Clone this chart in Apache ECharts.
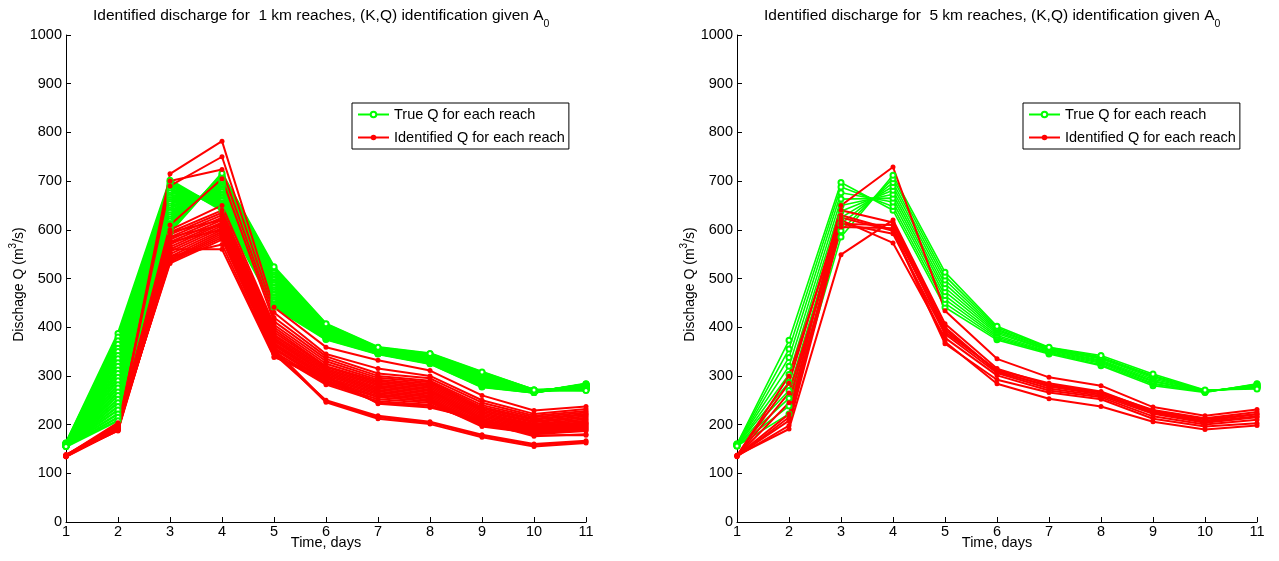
<!DOCTYPE html>
<html>
<head>
<meta charset="utf-8">
<script src="https://cdn.jsdelivr.net/npm/echarts@6/dist/echarts.min.js"></script>
<style>html,body{margin:0;padding:0;background:#fff;}#c{width:1279px;height:561px;}</style>
</head>
<body>
<div id="c"></div>
<script>
const days = [1, 2, 3, 4, 5, 6, 7, 8, 9, 10, 11];
const xTicks = [1, 2, 3, 4, 5, 6, 7, 8, 9, 10, 11];
const yTicks = [0, 100, 200, 300, 400, 500, 600, 700, 800, 900, 1000];

// 1 km reaches: true discharge per reach
const trueQ1km = [
  [162, 387, 702, 640, 441, 375, 345, 325, 277, 266, 284],
  [162, 380, 698, 643, 444, 376, 346, 326, 278, 266, 283],
  [161, 372, 693, 646, 448, 378, 346, 327, 280, 266, 283],
  [161, 365, 689, 650, 451, 379, 347, 328, 281, 267, 282],
  [161, 357, 684, 653, 455, 380, 347, 329, 282, 267, 282],
  [160, 350, 680, 656, 458, 382, 348, 329, 284, 267, 281],
  [160, 342, 676, 659, 462, 383, 348, 330, 285, 267, 281],
  [160, 335, 671, 662, 465, 384, 349, 331, 286, 268, 280],
  [159, 327, 667, 665, 469, 386, 349, 332, 287, 268, 280],
  [159, 320, 662, 669, 472, 387, 350, 333, 289, 268, 279],
  [159, 312, 658, 672, 476, 388, 350, 334, 290, 268, 279],
  [158, 305, 654, 675, 479, 390, 351, 335, 291, 268, 278],
  [158, 297, 649, 678, 483, 391, 352, 335, 293, 269, 277],
  [158, 290, 645, 681, 486, 392, 352, 336, 294, 269, 277],
  [158, 282, 640, 684, 490, 394, 353, 337, 295, 269, 276],
  [157, 275, 636, 688, 493, 395, 353, 338, 296, 269, 276],
  [157, 267, 631, 691, 497, 396, 354, 339, 298, 269, 275],
  [157, 260, 627, 694, 500, 398, 354, 340, 299, 270, 275],
  [157, 252, 622, 697, 503, 399, 355, 341, 300, 270, 274],
  [156, 245, 618, 700, 507, 400, 355, 341, 302, 270, 273],
  [156, 237, 613, 703, 510, 402, 356, 342, 303, 270, 273],
  [156, 230, 609, 707, 514, 403, 356, 343, 304, 270, 272],
  [156, 222, 604, 710, 517, 404, 357, 344, 305, 271, 272],
  [155, 215, 600, 713, 521, 406, 358, 345, 307, 271, 271],
  [155, 208, 595, 716, 524, 407, 359, 346, 308, 271, 270]
];

// 1 km reaches: identified discharge per reach
const identQ1km = [
  [136, 190, 715, 782, 441, 359, 332, 311, 260, 229, 237],
  [137, 193, 690, 750, 430, 345, 315, 300, 250, 222, 232],
  [138, 196, 700, 724, 420, 340, 305, 295, 245, 218, 228],
  [135, 199, 610, 705, 412, 335, 300, 290, 240, 215, 225],
  [136, 202, 600, 650, 405, 330, 296, 287, 236, 212, 222],
  [134, 188, 595, 640, 400, 325, 292, 284, 233, 210, 220],
  [137, 191, 590, 635, 395, 320, 289, 281, 230, 207, 217],
  [136, 194, 585, 630, 390, 318, 286, 278, 227, 205, 214],
  [135, 197, 580, 625, 385, 315, 283, 275, 224, 202, 211],
  [138, 200, 575, 620, 382, 312, 280, 272, 221, 200, 208],
  [136, 189, 570, 615, 378, 309, 277, 269, 218, 198, 205],
  [135, 192, 565, 612, 375, 306, 274, 266, 215, 196, 203],
  [137, 195, 560, 608, 372, 303, 271, 263, 212, 194, 201],
  [134, 198, 555, 604, 368, 300, 268, 260, 209, 192, 199],
  [136, 201, 550, 600, 365, 297, 265, 257, 206, 190, 197],
  [138, 187, 545, 596, 362, 294, 262, 254, 203, 188, 195],
  [135, 190, 540, 592, 358, 291, 259, 251, 200, 186, 193],
  [137, 193, 537, 588, 355, 288, 256, 248, 198, 184, 191],
  [136, 196, 534, 584, 350, 285, 252, 245, 196, 182, 189],
  [135, 199, 531, 580, 345, 282, 248, 241, 200, 180, 187],
  [137, 204, 545, 570, 340, 290, 245, 238, 205, 176, 180],
  [136, 188, 560, 560, 338, 300, 243, 235, 210, 178, 178],
  [135, 190, 575, 600, 350, 246, 212, 201, 174, 155, 162],
  [136, 192, 585, 610, 355, 248, 215, 204, 177, 158, 165],
  [134, 194, 595, 620, 345, 250, 218, 206, 179, 160, 167]
];

// 5 km reaches: true discharge per reach
const trueQ5km = [
  [160, 373, 697, 640, 441, 374, 345, 321, 280, 266, 284],
  [160, 355, 688, 648, 449, 377, 347, 323, 283, 267, 283],
  [159, 338, 676, 657, 457, 380, 348, 326, 285, 267, 282],
  [159, 320, 663, 665, 465, 383, 350, 328, 288, 268, 280],
  [158, 303, 650, 673, 473, 387, 352, 330, 290, 268, 279],
  [158, 287, 638, 681, 481, 390, 353, 332, 293, 269, 278],
  [157, 270, 625, 689, 489, 393, 355, 335, 296, 269, 277],
  [157, 254, 612, 697, 497, 396, 356, 337, 299, 270, 276],
  [156, 238, 598, 705, 505, 399, 358, 339, 301, 270, 275],
  [156, 222, 585, 712, 513, 402, 359, 342, 304, 271, 273]
];

// 5 km reaches: identified discharge per reach
const identQ5km = [
  [136, 222, 650, 729, 434, 335, 297, 280, 236, 218, 231],
  [137, 191, 549, 620, 407, 315, 282, 266, 230, 213, 226],
  [135, 198, 606, 603, 395, 310, 278, 262, 226, 208, 221],
  [136, 208, 613, 592, 386, 306, 274, 259, 222, 204, 215],
  [134, 215, 620, 573, 378, 301, 270, 256, 217, 200, 210],
  [135, 245, 630, 600, 370, 284, 253, 237, 206, 190, 198],
  [136, 265, 612, 610, 390, 312, 285, 268, 228, 211, 222],
  [137, 285, 640, 615, 400, 308, 280, 263, 224, 206, 217],
  [136, 300, 625, 598, 366, 292, 266, 252, 212, 196, 203]
];

const TRUE_NAME = 'True Q for each reach';
const IDENT_NAME = 'Identified Q for each reach';
const FONT = '"Liberation Sans", Arial, Helvetica, sans-serif';
const FS = 14.5;

function mkSeries(rows, name, color, symbol, idx, width) {
  return rows.map(r => ({
    type: 'line', name: name, xAxisIndex: idx, yAxisIndex: idx,
    data: days.map((d, i) => [d, r[i]]),
    symbol: symbol, symbolSize: 5, showSymbol: true,
    lineStyle: { color: color, width: width },
    itemStyle: { color: color, borderColor: color, borderWidth: symbol === 'emptyCircle' ? 1.5 : 0 },
    emphasis: { disabled: true }, silent: true, animation: false
  }));
}

function xAx(idx) {
  return {
    type: 'value', gridIndex: idx, min: 1, max: 11, interval: 1,
    name: 'Time, days', nameLocation: 'middle', nameGap: 14, nameMoveOverlap: false,
    nameTextStyle: { color: '#000', fontSize: FS, fontFamily: FONT, lineHeight: 14 },
    axisLine: { lineStyle: { color: '#000', width: 1 } },
    axisTick: { inside: true, length: 5, lineStyle: { color: '#000' } },
    axisLabel: { color: '#000', fontSize: FS, fontFamily: FONT, margin: 3, lineHeight: 14,
      formatter: v => xTicks.includes(v) ? String(v) : '' },
    splitLine: { show: false }
  };
}
function yAx(idx) {
  return {
    type: 'value', gridIndex: idx, min: 0, max: 1000, interval: 100,
    name: '{a|Dischage Q (m}{s|3}{a|/s)}', nameLocation: 'middle', nameGap: 39, nameRotate: 90,
    nameTextStyle: { color: '#000', fontFamily: FONT, padding: [0, 12, 0, 0],
      rich: { a: { fontSize: 14, color: '#000', fontFamily: FONT, lineHeight: 18, verticalAlign: 'bottom' },
              s: { fontSize: 10, color: '#000', fontFamily: FONT, lineHeight: 10, verticalAlign: 'top' } } },
    axisLine: { show: true, lineStyle: { color: '#000', width: 1 } },
    axisTick: { show: true, inside: true, length: 5, lineStyle: { color: '#000' } },
    axisLabel: { color: '#000', fontSize: FS, fontFamily: FONT, margin: 4,
      formatter: v => yTicks.includes(v) ? String(v) : '' },
    splitLine: { show: false }
  };
}
function mkTitle(left, km) {
  return {
    left: left, top: 3,
    text: '{t|Identified discharge for  ' + km + ' km reaches, (K,Q) identification given A}{s|0}',
    textStyle: { fontWeight: 'normal', fontFamily: FONT,
      rich: { t: { fontSize: 15.5, color: '#000', fontFamily: FONT, lineHeight: 22, verticalAlign: 'top' },
              s: { fontSize: 10.5, color: '#000', fontFamily: FONT, lineHeight: 11, verticalAlign: 'bottom' } } }
  };
}
function mkLegend(left) {
  return {
    left: left, top: 103, orient: 'vertical',
    data: [TRUE_NAME, IDENT_NAME],
    itemWidth: 31, itemHeight: 7, itemGap: 8,
    padding: [4, 4, 4, 5],
    borderColor: '#000', borderWidth: 1, borderRadius: 0, backgroundColor: '#fff',
    textStyle: { color: '#000', fontSize: FS, fontFamily: FONT, lineHeight: 15 },
    selectedMode: false
  };
}

const chart = echarts.init(document.getElementById('c'), null, { renderer: 'canvas' });
chart.setOption({
  backgroundColor: '#fff',
  animation: false,
  title: [mkTitle(88, 1), mkTitle(759, 5)],
  legend: [mkLegend(352), mkLegend(1023)],
  grid: [
    { left: 66, top: 35, width: 520, height: 487 },
    { left: 737, top: 35, width: 520, height: 487 }
  ],
  xAxis: [xAx(0), xAx(1)],
  yAxis: [yAx(0), yAx(1)],
  series: [].concat(
    mkSeries(trueQ1km, TRUE_NAME, '#00ff00', 'emptyCircle', 0, 2.5),
    mkSeries(trueQ5km, TRUE_NAME, '#00ff00', 'emptyCircle', 1, 1.6),
    mkSeries(identQ1km, IDENT_NAME, '#ff0000', 'circle', 0, 2),
    mkSeries(identQ5km, IDENT_NAME, '#ff0000', 'circle', 1, 2)
  )
});
</script>
</body>
</html>
